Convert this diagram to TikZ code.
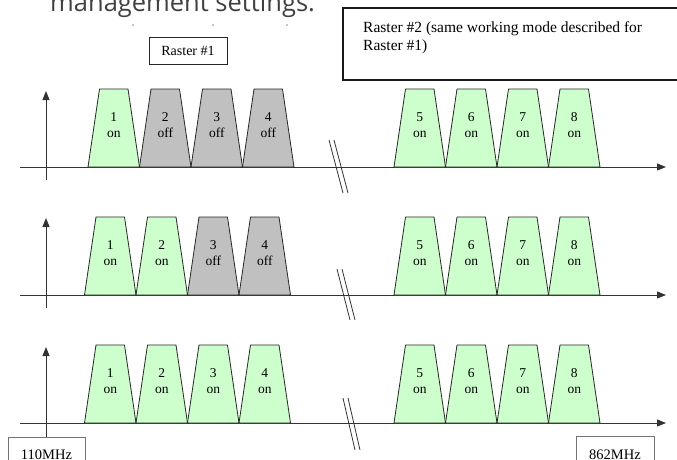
\documentclass[tikz,border=0pt]{standalone}
\usepackage{fontspec}
\setmainfont{Liberation Serif}
\newfontfamily\uisans{Open Sans}
\usetikzlibrary{arrows.meta}
\definecolor{ongreen}{HTML}{CCFFCC}
\definecolor{offgray}{HTML}{C0C0C0}
\definecolor{axisc}{HTML}{333333}
\newcommand\chan[5]{%
  \draw[trapbox, fill=#4] (#2,#3) -- ++(11.5,-78) -- ++(28.5,0) -- ++(11.5,78) -- cycle;
  \node[chlabel] (#1) at (#2+25.75,#3-42) {#5};%
}
\begin{document}
\begin{tikzpicture}[x=1pt,y=-1pt,
  trapbox/.style={draw=black!85, line width=0.8pt, line join=round},
  chlabel/.style={align=center, font=\fontsize{13.5}{16}\selectfont, inner sep=0pt},
  axisline/.style={draw=axisc, line width=1pt},
  axisarrow/.style={axisline, -{Triangle[length=9pt,width=7pt]}},
  breakline/.style={draw=axisc, line width=0.8pt},
  rasterbox/.style={draw=black!85, line width=0.9pt, font=\fontsize{14}{16}\selectfont},
  freqbox/.style={draw=black!55, line width=0.9pt, font=\fontsize{14.5}{16}\selectfont, anchor=north},
  speck/.style={fill=black!45, draw=none}]
\useasboundingbox (0,0) rectangle (677,459);
\clip (0,0) rectangle (677,459);

% cut-off heading of the page
\node[anchor=base west, font=\uisans\fontsize{25.5}{30}\selectfont, text=black!75, inner sep=0pt] (heading) at (50,11.5) {management settings.};
\foreach \sx in {133,213,287} \fill[speck] (\sx,25) circle (0.8);

% raster boxes
\node[rasterbox, minimum width=78pt, minimum height=27pt, inner sep=0pt] (r1) at (188,50.5) {Raster \#1};
\draw[draw=black!90, line width=1.6pt] (343,8) rectangle (690,80);
\node[anchor=north west, align=left, inner sep=0pt, font=\fontsize{15.5}{18}\selectfont] (r2) at (363,21) {Raster \#2 (same working mode described for\\Raster \#1)};

% frequency boxes
\node[freqbox, minimum width=77pt, minimum height=35pt] (f110) at (46.5,437) {110MHz};
\node[freqbox, minimum width=78pt, minimum height=36pt] (f862) at (615,436) {862MHz};

% row 1 (axis y = 167)
\coordinate (h1s) at (20,167); \coordinate (h1e) at (666,167);
\coordinate (v1s) at (46,180); \coordinate (v1e) at (46,91);
\draw[axisarrow] (h1s) -- (h1e);
\draw[axisarrow] (v1s) -- (v1e);
\draw[breakline] (329,140) -- (343,193);
\draw[breakline] (334,140) -- (348,193);
\chan{a1}{88}{167}{ongreen}{1\\on}
\chan{a2}{139.5}{167}{offgray}{2\\off}
\chan{a3}{191}{167}{offgray}{3\\off}
\chan{a4}{242.5}{167}{offgray}{4\\off}
\chan{a5}{394}{167}{ongreen}{5\\on}
\chan{a6}{445.5}{167}{ongreen}{6\\on}
\chan{a7}{497}{167}{ongreen}{7\\on}
\chan{a8}{548.5}{167}{ongreen}{8\\on}

% row 2 (axis y = 295)
\coordinate (h2s) at (20,295); \coordinate (h2e) at (666,295);
\coordinate (v2s) at (46,308); \coordinate (v2e) at (46,218);
\draw[axisarrow] (h2s) -- (h2e);
\draw[axisarrow] (v2s) -- (v2e);
\draw[breakline] (337,269) -- (350,320);
\draw[breakline] (342,269) -- (355,320);
\chan{b1}{84.5}{295}{ongreen}{1\\on}
\chan{b2}{136}{295}{ongreen}{2\\on}
\chan{b3}{187.5}{295}{offgray}{3\\off}
\chan{b4}{239}{295}{offgray}{4\\off}
\chan{b5}{394}{295}{ongreen}{5\\on}
\chan{b6}{445.5}{295}{ongreen}{6\\on}
\chan{b7}{497}{295}{ongreen}{7\\on}
\chan{b8}{548.5}{295}{ongreen}{8\\on}

% row 3 (axis y = 423)
\coordinate (h3s) at (20,423); \coordinate (h3e) at (666,423);
\coordinate (v3e) at (46,347);
\draw[axisarrow] (h3s) -- (h3e);
\draw[axisarrow] (f110.north -| v3e) -- (v3e);
\draw[breakline] (343,398) -- (355,450);
\draw[breakline] (348,398) -- (360,450);
\chan{c1}{84.5}{423}{ongreen}{1\\on}
\chan{c2}{136}{423}{ongreen}{2\\on}
\chan{c3}{187.5}{423}{ongreen}{3\\on}
\chan{c4}{239}{423}{ongreen}{4\\on}
\chan{c5}{394}{423}{ongreen}{5\\on}
\chan{c6}{445.5}{423}{ongreen}{6\\on}
\chan{c7}{497}{423}{ongreen}{7\\on}
\chan{c8}{548.5}{423}{ongreen}{8\\on}
\end{tikzpicture}
\end{document}
